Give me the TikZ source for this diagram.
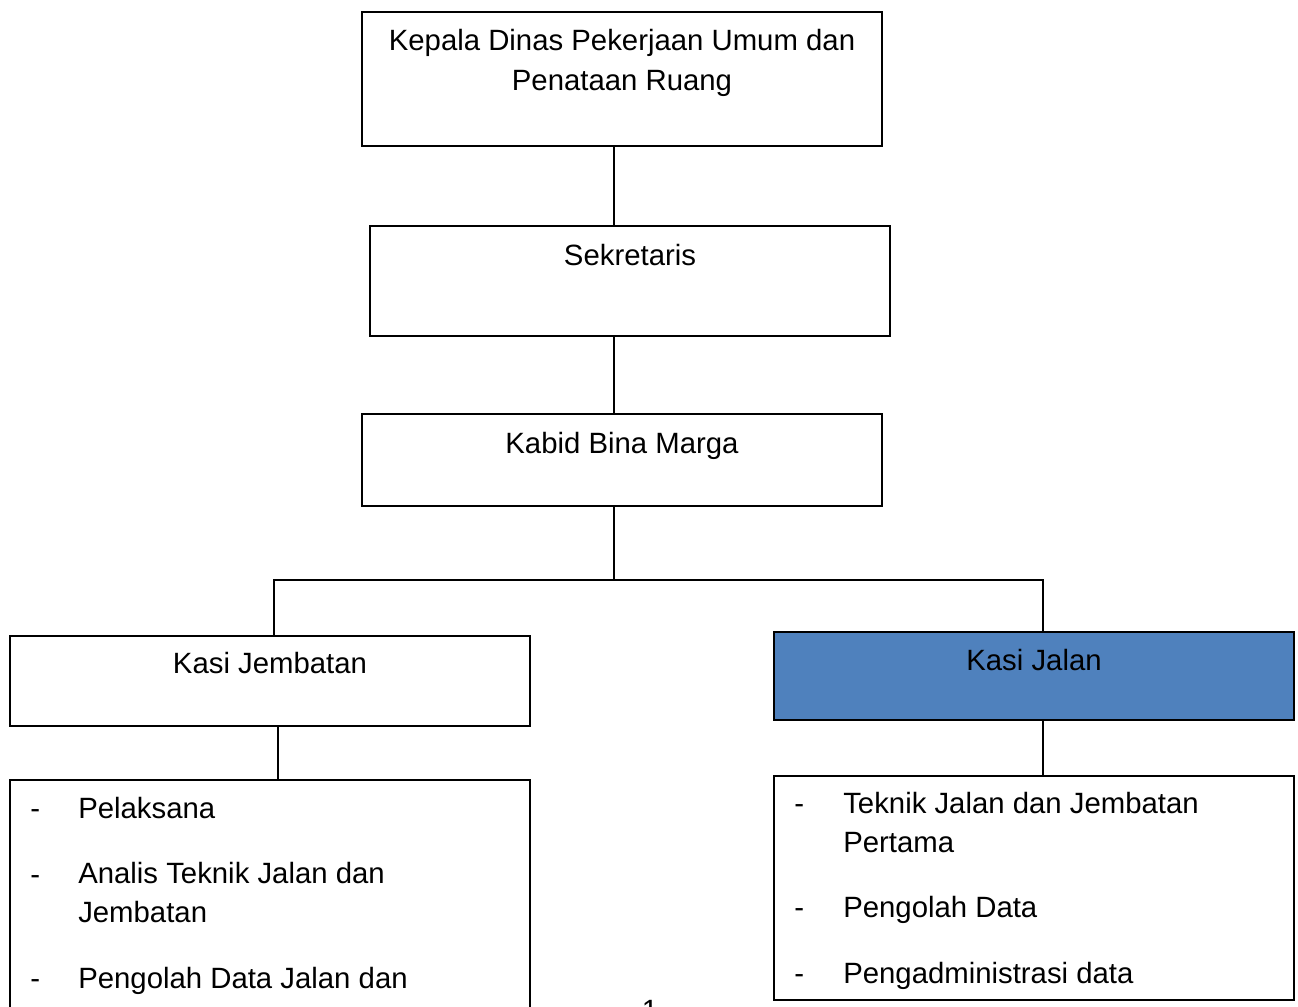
\documentclass[tikz,border=0pt]{standalone}
\usepackage{fontspec}
\setmainfont{Liberation Sans}
\definecolor{kasiblue}{RGB}{79,129,189}
\tikzset{
	box/.style={shape=rectangle, draw, line width=1.1pt, inner sep=0pt, minimum width=390pt},
	title/.style={anchor=base, align=center, inner sep=0pt, font=\fontsize{22pt}{30pt}\selectfont},
	itemdash/.style={anchor=base west, inner sep=0pt, font=\fontsize{22pt}{29pt}\selectfont},
	item/.style={anchor=base west, align=left, inner sep=0pt, font=\fontsize{22pt}{29pt}\selectfont},
	wire/.style={line width=1.1pt}
}

\begin{document}
\begin{tikzpicture}[x=0.75pt, y=-0.75pt]
	\useasboundingbox (0, 0) rectangle (1298, 1006);
	\clip (0, 0) rectangle (1298, 1006);
	% Boxes:
	\node[box, minimum height=100.5pt] (kepala) at (622, 79){};
	\node[title] (kepalaText) at (622, 90){Kepala Dinas Pekerjaan Umum dan\\Penataan Ruang};
	\node[box, minimum height=82.5pt] (sekretaris) at (630, 281){};
	\node[title] (sekretarisText) at (630, 265){Sekretaris};
	\node[box, minimum height=69pt] (kabid) at (622, 460){};
	\node[title] (kabidText) at (622, 453){Kabid Bina Marga};
	\node[box, minimum height=67.5pt] (jembatan) at (270, 681){};
	\node[title] (jembatanText) at (270, 673){Kasi Jembatan};
	\node[box, fill=kasiblue, minimum height=66pt] (jalan) at (1034, 676){};
	\node[title] (jalanText) at (1034, 670){Kasi Jalan};
	\node[box, minimum height=195pt] (listL) at (270, 910){};
	\node[box, minimum height=168pt] (listR) at (1034, 888){};
	% Lists:
	\node[itemdash] (dashL1) at (30, 818){-};
	\node[item] (itemL1) at (78, 818){Pelaksana};
	\node[itemdash] (dashL2) at (30, 884){-};
	\node[item] (itemL2) at (78, 922){Analis Teknik Jalan dan\\Jembatan};
	\node[itemdash] (dashL3) at (30, 988){-};
	\node[item] (itemL3) at (78, 988){Pengolah Data Jalan dan};
	\node[itemdash] (dashR1) at (794, 813){-};
	\node[item] (itemR1) at (843, 852){Teknik Jalan dan Jembatan\\Pertama};
	\node[itemdash] (dashR2) at (794, 917){-};
	\node[item] (itemR2) at (843, 917){Pengolah Data};
	\node[itemdash] (dashR3) at (794, 983){-};
	\node[item] (itemR3) at (843, 983){Pengadministrasi data};
	\node[title] (pageNum) at (650, 1020){1};
	% Wires:
	\coordinate (bus) at (614, 580);
	\coordinate (busL) at (274, 580);
	\coordinate (busR) at (1043, 580);
	\coordinate (dropL) at (278, 726);
	\draw[wire] (kepala.south -| bus) -- (sekretaris.north -| bus);
	\draw[wire] (sekretaris.south -| bus) -- (kabid.north -| bus);
	\draw[wire] (kabid.south -| bus) -- (bus);
	\draw[wire] (jembatan.north -| busL) |- (busR) -- (jalan.north -| busR);
	\draw[wire] (jembatan.south -| dropL) -- (listL.north -| dropL);
	\draw[wire] (jalan.south -| busR) -- (listR.north -| busR);
\end{tikzpicture}
\end{document}
